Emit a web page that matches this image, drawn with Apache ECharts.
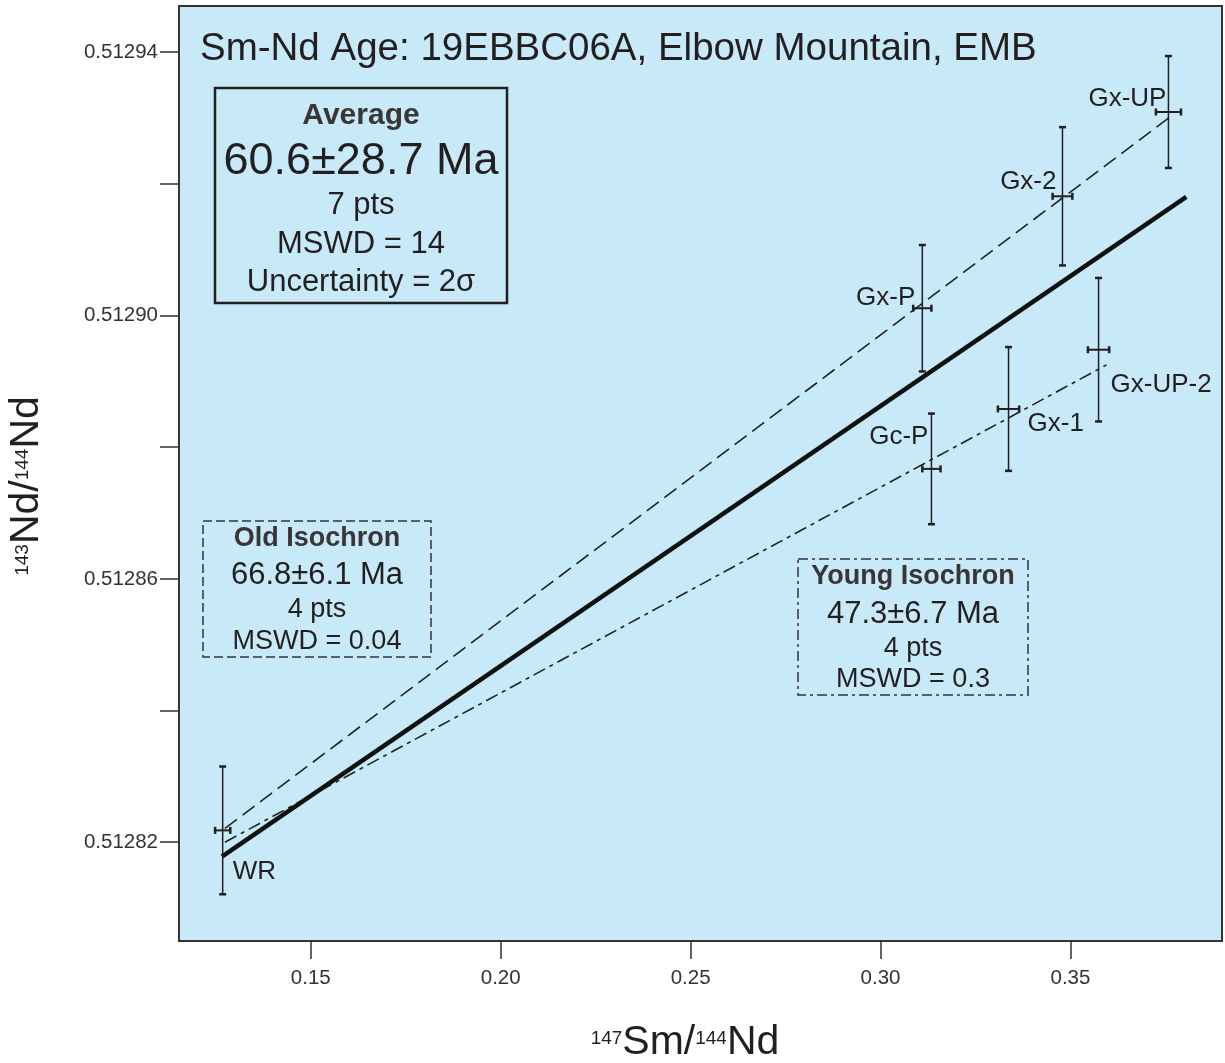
<!DOCTYPE html>
<html>
<head>
<meta charset="utf-8">
<script src="https://cdn.jsdelivr.net/npm/echarts@6/dist/echarts.min.js"></script>
<style>
  html, body { margin: 0; padding: 0; background: #fff; }
  #main { width: 1225px; height: 1063px; }
</style>
</head>
<body>
<div id="main"></div>
<script>
// samples, 147Sm/144Nd and 143Nd/144Nd with 2 sigma errors
const names = ['WR', 'Gx-P', 'Gc-P', 'Gx-1', 'Gx-2', 'Gx-UP-2', 'Gx-UP'];
const smNd = [0.1268, 0.3110, 0.3134, 0.3337, 0.3479, 0.3574, 0.3758];
const smNdErr = [0.0020, 0.0024, 0.0024, 0.0028, 0.0026, 0.0028, 0.0033];
const ndNd = [0.5128218, 0.5129011, 0.5128767, 0.5128858, 0.5129181, 0.5128948, 0.5129309];
const ndNdErr = [0.0000097, 0.0000096, 0.0000084, 0.0000094, 0.0000105, 0.0000109, 0.0000085];

// isochron lines (end points)
const avgLine = [[0.1266, 0.5128178], [0.3805, 0.5129180]];
const oldLine = [[0.1274, 0.5128221], [0.3761, 0.5129301]];
const youngLine = [[0.1274, 0.5128200], [0.3595, 0.5128925]];

// ticks
const xTicks = [0.15, 0.20, 0.25, 0.30, 0.35];
const yTicks = [0.51282, 0.51284, 0.51286, 0.51288, 0.51290, 0.51292, 0.51294];
const yLabels = [0.51282, 0.51286, 0.51290, 0.51294];

// label placement next to each point: dx, dy, align
const labelPos = {
  'WR': [10, 41, 'left'],
  'Gx-P': [-7, -10, 'right'],
  'Gc-P': [-3, -32, 'right'],
  'Gx-1': [19, 15, 'left'],
  'Gx-2': [-6, -14, 'right'],
  'Gx-UP-2': [12, 35, 'left'],
  'Gx-UP': [-2, -13, 'right']
};

const FONT = '"Liberation Sans", Arial, Helvetica, sans-serif';
const INK = '#231f20';

const errData = names.map((n, i) => [smNd[i], ndNd[i], smNdErr[i], ndNdErr[i]]);

function renderErr(params, api) {
  const x = api.value(0), y = api.value(1), ex = api.value(2), ey = api.value(3);
  const c = api.coord([x, y]);
  const t = api.coord([x, y + ey]);
  const b = api.coord([x, y - ey]);
  const l = api.coord([x - ex, y]);
  const r = api.coord([x + ex, y]);
  const name = names[params.dataIndex];
  const lp = labelPos[name];
  const thin = { stroke: INK, lineWidth: 1.5 };
  const cap = { stroke: INK, lineWidth: 2.5 };
  return {
    type: 'group',
    children: [
      { type: 'line', shape: { x1: c[0], y1: t[1], x2: c[0], y2: b[1] }, style: thin },
      { type: 'line', shape: { x1: c[0] - 3.5, y1: t[1], x2: c[0] + 3.5, y2: t[1] }, style: cap },
      { type: 'line', shape: { x1: c[0] - 3.5, y1: b[1], x2: c[0] + 3.5, y2: b[1] }, style: cap },
      { type: 'line', shape: { x1: l[0], y1: c[1], x2: r[0], y2: c[1] }, style: { stroke: INK, lineWidth: 2 } },
      { type: 'line', shape: { x1: l[0], y1: c[1] - 3.5, x2: l[0], y2: c[1] + 3.5 }, style: cap },
      { type: 'line', shape: { x1: r[0], y1: c[1] - 3.5, x2: r[0], y2: c[1] + 3.5 }, style: cap },
      {
        type: 'text', x: c[0] + lp[0], y: c[1] + lp[1],
        style: { text: name, fontSize: 26, fontFamily: FONT, fill: INK, align: lp[2], verticalAlign: 'middle' }
      }
    ]
  };
}

function textLines(cx, lines) {
  return lines.map(l => ({
    type: 'text', x: cx, y: l[1],
    style: {
      text: l[0], fontSize: l[2], fontWeight: l[3] ? 'bold' : 'normal',
      fontFamily: FONT, fill: l[3] ? '#3a3536' : INK, align: 'center', verticalAlign: 'middle'
    }
  }));
}

const supRich = {
  s: { fontSize: 19, fontFamily: FONT, fill: INK, verticalAlign: 'top', lineHeight: 22, padding: [9, 0, 0, 0] },
  b: { fontSize: 41, fontFamily: FONT, fill: INK, lineHeight: 46 }
};

const chart = echarts.init(document.getElementById('main'));
chart.setOption({
  animation: false,
  backgroundColor: '#fff',
  grid: {
    left: 179, top: 6, right: 3, bottom: 122,
    show: true, backgroundColor: '#c7e9f8', borderColor: '#333', borderWidth: 2
  },
  xAxis: {
    type: 'value', min: 0.1153, max: 0.3899,
    axisLine: { show: false },
    splitLine: { show: false },
    axisTick: { customValues: xTicks, length: 18, lineStyle: { color: '#333', width: 1.5 } },
    axisLabel: {
      customValues: xTicks, margin: 27, fontSize: 20.5, fontFamily: FONT, color: '#333',
      formatter: v => v.toFixed(2)
    }
  },
  yAxis: {
    type: 'value', min: 0.512805, max: 0.512947,
    axisLine: { show: false },
    splitLine: { show: false },
    axisTick: { customValues: yTicks, length: 19, lineStyle: { color: '#333', width: 1.5 } },
    axisLabel: {
      customValues: yLabels, margin: 21, fontSize: 20.5, fontFamily: FONT, color: '#333',
      formatter: v => v.toFixed(5)
    }
  },
  series: [
    {
      type: 'line', data: oldLine, symbol: 'none', z: 3,
      lineStyle: { color: '#222', width: 1.6, type: [15, 7] }
    },
    {
      type: 'line', data: youngLine, symbol: 'none', z: 3,
      lineStyle: { color: '#222', width: 1.6, type: [13, 5, 4, 5] }
    },
    {
      type: 'line', data: avgLine, symbol: 'none', z: 4,
      lineStyle: { color: '#111', width: 4.5 }
    },
    {
      type: 'custom', data: errData, renderItem: renderErr, z: 5, clip: false
    }
  ],
  graphic: [
    {
      type: 'text', x: 200, y: 49,
      style: { text: 'Sm-Nd Age: 19EBBC06A, Elbow Mountain, EMB', fontSize: 38.5, fontFamily: FONT, fill: INK, verticalAlign: 'middle' }
    },
    {
      type: 'rect', shape: { x: 215, y: 88, width: 292, height: 215 },
      style: { fill: 'none', stroke: INK, lineWidth: 2.5 }
    },
    ...textLines(361, [
      ['Average', 116, 30, true],
      ['60.6±28.7 Ma', 162, 45],
      ['7 pts', 205, 31],
      ['MSWD = 14', 244, 31],
      ['Uncertainty = 2σ', 282, 31]
    ]),
    {
      type: 'rect', shape: { x: 203, y: 521, width: 228, height: 136 },
      style: { fill: 'none', stroke: '#333', lineWidth: 1.5, lineDash: [9, 4] }
    },
    ...textLines(317, [
      ['Old Isochron', 539, 27, true],
      ['66.8±6.1 Ma', 575, 31],
      ['4 pts', 610, 27],
      ['MSWD = 0.04', 642, 27]
    ]),
    {
      type: 'rect', shape: { x: 798, y: 559, width: 230, height: 136 },
      style: { fill: 'none', stroke: '#333', lineWidth: 1.5, lineDash: [10, 4, 3, 4] }
    },
    ...textLines(913, [
      ['Young Isochron', 577, 27, true],
      ['47.3±6.7 Ma', 614, 31],
      ['4 pts', 649, 27],
      ['MSWD = 0.3', 680, 27]
    ]),
    {
      type: 'text', x: 685, y: 1043,
      style: { text: '{s|147}{b|Sm/}{s|144}{b|Nd}', rich: supRich, align: 'center', verticalAlign: 'middle' }
    },
    {
      type: 'text', x: 27, y: 486, rotation: Math.PI / 2,
      style: { text: '{s|143}{b|Nd/}{s|144}{b|Nd}', rich: supRich, align: 'center', verticalAlign: 'middle' }
    }
  ]
});
</script>
</body>
</html>
